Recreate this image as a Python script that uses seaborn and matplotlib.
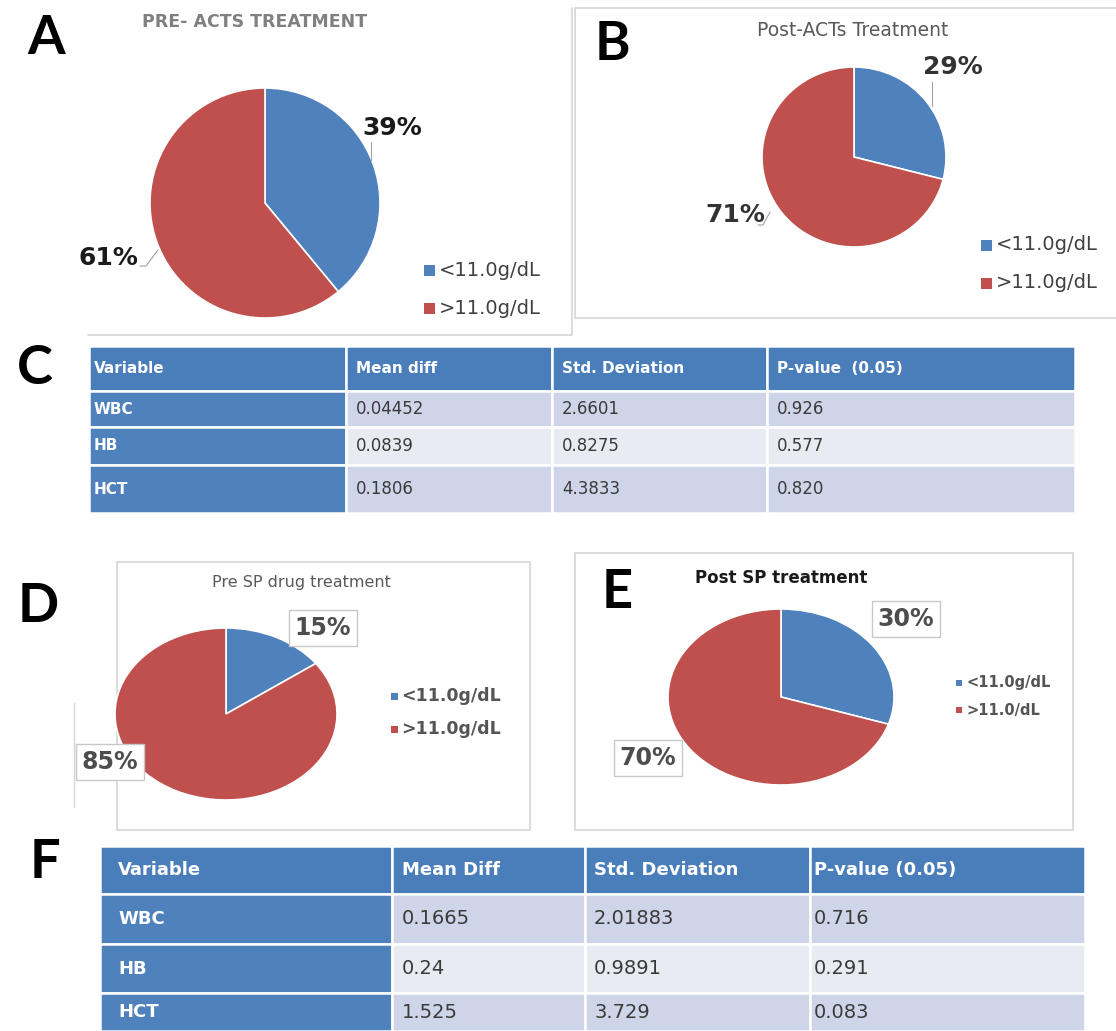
import numpy as np
import matplotlib
matplotlib.use("Agg")
import matplotlib.pyplot as plt
import seaborn as sns

# ---------------- data ----------------
hb_classes = ["<11.0g/dL", ">11.0g/dL"]
hb_classes_e = ["<11.0g/dL", ">11.0/dL"]
pre_acts = [39, 61]
post_acts = [29, 71]
pre_sp = [15, 85]
post_sp = [30, 70]

variables = ["WBC", "HB", "HCT"]
acts_header = ["Variable", "Mean diff", "Std. Deviation", "P-value  (0.05)"]
acts_mean_diff = ["0.04452", "0.0839", "0.1806"]
acts_std = ["2.6601", "0.8275", "4.3833"]
acts_p = ["0.926", "0.577", "0.820"]
sp_header = ["Variable", "Mean Diff", "Std. Deviation", "P-value (0.05)"]
sp_mean_diff = ["0.1665", "0.24", "1.525"]
sp_std = ["2.01883", "0.9891", "3.729"]
sp_p = ["0.716", "0.291", "0.083"]

sns.set_theme(style="white")
plt.rcParams['font.family'] = ['DejaVu Sans']

W, H = 1116, 1031
fig = plt.figure(figsize=(W / 100, H / 100), dpi=100)
fig.patch.set_facecolor('white')


def add_ax(x0, y0, x1, y1, z=1):
    return fig.add_axes([x0 / W, 1 - y1 / H, (x1 - x0) / W, (y1 - y0) / H], zorder=z)


def overlay(z):
    a = add_ax(0, 0, W, H, z=z)
    a.set_xlim(0, W)
    a.set_ylim(H, 0)
    a.axis('off')
    a.patch.set_alpha(0)
    return a


bg = overlay(0)
top = overlay(10)

palette = sns.color_palette(["#4f81bd", "#c0504d"])
BORDER = "#d6d6d6"

# ---------------- panel frames ----------------
bg.plot([88, 572, 572], [335, 335, 8], color=BORDER, lw=1.2)
bg.plot([1116, 575, 575, 1116], [8, 8, 318, 318], color=BORDER, lw=1.2)
bg.add_patch(plt.Rectangle((117, 562), 413, 268, fill=False, ec=BORDER, lw=1.2))
bg.plot([74, 74], [703, 807], color=BORDER, lw=1.0)
bg.add_patch(plt.Rectangle((575, 553), 498, 277, fill=False, ec=BORDER, lw=1.2))

# ---------------- panel letters ----------------
for letter, (lx, ly) in {"A": (46, 38), "B": (612, 45), "C": (35, 369),
                         "D": (38, 606), "E": (617, 593), "F": (45, 862)}.items():
    top.text(lx, ly, letter, ha='center', va='center', fontsize=39,
             fontweight='bold', family=['Lato', 'DejaVu Sans'], color='black')


# ---------------- pies ----------------
def draw_pie(values, cx, cy, rx, ry):
    ax = add_ax(cx - rx, cy - ry, cx + rx, cy + ry, z=5)
    wedges, _ = ax.pie(values, colors=palette, startangle=90, counterclock=False,
                       radius=1, wedgeprops=dict(edgecolor='white', linewidth=1.2))
    for w in wedges:
        w.set_clip_on(False)
    ax.set_aspect('auto')
    ax.set_xlim(-1, 1)
    ax.set_ylim(-1, 1)
    ax.axis('off')
    return ax


def legend(x, y0, dy, labels, size, fs, weight, color):
    for i, lab in enumerate(labels):
        yy = y0 + i * dy
        top.add_patch(plt.Rectangle((x - size / 2, yy - size / 2), size, size,
                                    color=palette[i], lw=0))
        top.text(x + size / 2 + 4, yy, lab, ha='left', va='center', fontsize=fs,
                 fontweight=weight, color=color)


# A
draw_pie(pre_acts, 265, 203, 115, 115)
top.text(255, 22, "PRE- ACTS TREATMENT", ha='center', va='center', fontsize=12.5,
         fontweight='bold', color='#808080')
top.text(392, 128, f"{pre_acts[0]}%", ha='center', va='center', fontsize=18,
         fontweight='bold', color='#1a1a1a')
top.plot([371, 371], [142, 160], color='#a0a0a0', lw=0.8)
top.text(108, 258, f"{pre_acts[1]}%", ha='center', va='center', fontsize=18,
         fontweight='bold', color='#1a1a1a')
top.plot([140, 146, 158], [266, 266, 250], color='#a0a0a0', lw=0.8)
legend(429, 270, 38, hb_classes, 11, 14, 'normal', '#404040')

# B
draw_pie(post_acts, 854, 157, 92, 90)
top.text(853, 30, "Post-ACTs Treatment", ha='center', va='center', fontsize=13.5,
         color='#595959')
top.text(953, 67, f"{post_acts[0]}%", ha='center', va='center', fontsize=18,
         fontweight='bold', color='#333333')
top.plot([932, 932], [82, 106], color='#a0a0a0', lw=0.8)
top.text(735, 215, f"{post_acts[1]}%", ha='center', va='center', fontsize=18,
         fontweight='bold', color='#333333')
top.plot([758, 763, 770], [225, 225, 212], color='#a0a0a0', lw=0.8)
legend(986, 245, 38, hb_classes, 11, 14, 'normal', '#404040')

# D
draw_pie(pre_sp, 226, 714, 111, 86)
top.text(301, 583, "Pre SP drug treatment", ha='center', va='center', fontsize=11.5,
         color='#595959')
box = dict(boxstyle='square,pad=0.25', fc='white', ec='#c8c8c8', lw=1)
top.text(323, 628, f"{pre_sp[0]}%", ha='center', va='center', fontsize=17,
         fontweight='bold', color='#4d4d4d', bbox=box)
top.text(110, 762, f"{pre_sp[1]}%", ha='center', va='center', fontsize=17,
         fontweight='bold', color='#4d4d4d', bbox=box)
legend(394, 696, 33, hb_classes, 7, 12.5, 'bold', '#555555')

# E
draw_pie(post_sp, 781, 697, 113, 88)
top.text(695, 578, "Post SP treatment", ha='left', va='center', fontsize=12,
         fontweight='bold', color='#1a1a1a')
top.text(906, 619, f"{post_sp[0]}%", ha='center', va='center', fontsize=17,
         fontweight='bold', color='#4d4d4d', bbox=box)
top.text(648, 758, f"{post_sp[1]}%", ha='center', va='center', fontsize=17,
         fontweight='bold', color='#4d4d4d', bbox=box)
legend(959, 683, 27, hb_classes_e, 6, 10.5, 'bold', '#555555')

# ---------------- tables ----------------
HEAD = "#4a7ebb"
FIRST = "#4f81bd"
ROW_DARK = "#cfd5e8"
ROW_LIGHT = "#e9ebf3"


def draw_table(x0, y0, header, cols, col_px, row_px, pads, fs_head, fs_body):
    x1 = x0 + sum(col_px)
    y1 = y0 + sum(row_px)
    ax = add_ax(x0, y0, x1, y1, z=3)
    ax.axis('off')
    body = [list(r) for r in zip(variables, *cols)]
    tbl = ax.table(cellText=[header] + body, cellLoc='left', bbox=[0, 0, 1, 1])
    tbl.auto_set_font_size(False)
    tw, th = sum(col_px), sum(row_px)
    for (r, c), cell in tbl.get_celld().items():
        cell.set_width(col_px[c] / tw)
        cell.set_height(row_px[r] / th)
        cell.set_edgecolor('white')
        cell.set_linewidth(1.8)
        cell.PAD = pads[c] / col_px[c]
        t = cell.get_text()
        if r == 0:
            cell.set_facecolor(HEAD)
            t.set_color('white')
            t.set_fontweight('bold')
            t.set_fontsize(fs_head)
        elif c == 0:
            cell.set_facecolor(FIRST)
            t.set_color('white')
            t.set_fontweight('bold')
            t.set_fontsize(fs_head)
        else:
            cell.set_facecolor(ROW_DARK if r % 2 == 1 else ROW_LIGHT)
            t.set_color('#3a3a3a')
            t.set_fontsize(fs_body)
    return ax


draw_table(89, 346, acts_header, [acts_mean_diff, acts_std, acts_p],
           [257, 206, 215, 308], [45, 36, 38, 48], [5, 10, 10, 10], 11, 12)
draw_table(100, 846, sp_header, [sp_mean_diff, sp_std, sp_p],
           [292, 193, 225, 275], [48, 50, 49, 38], [18, 10, 9, 4], 13, 14)

fig.savefig("out.png", dpi=100, facecolor='white')
